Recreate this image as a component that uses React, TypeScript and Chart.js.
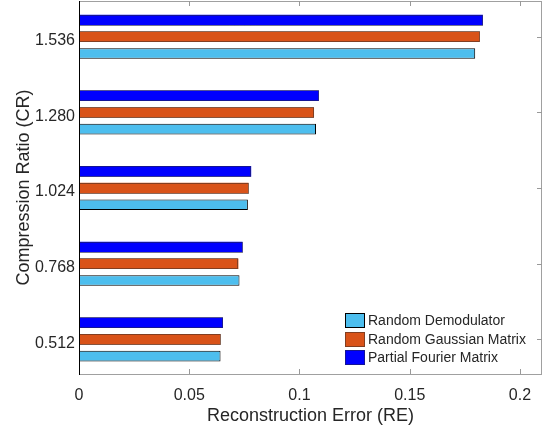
import { useEffect, useRef } from "react";
import { Chart, registerables } from "chart.js";

Chart.register(...registerables);

const categories = [0.512, 0.768, 1.024, 1.28, 1.536];
const categoryLabels = ["0.512", "0.768", "1.024", "1.280", "1.536"];
const xTicks = [0, 0.05, 0.1, 0.15, 0.2];
const xTickLabels = ["0", "0.05", "0.1", "0.15", "0.2"];
const randomDemodulator = [0.0642, 0.0728, 0.0766, 0.1075, 0.1797];
const randomGaussian = [0.0642, 0.0723, 0.0769, 0.1066, 0.1818];
const partialFourier = [0.0653, 0.0742, 0.0781, 0.1088, 0.1832];
const seriesNames = ["Random Demodulator", "Random Gaussian Matrix", "Partial Fourier Matrix"];
const seriesColors = ["#4DBEEE", "#D95319", "#0000FF"];

const FONT = "'Liberation Sans', Arial, Helvetica, sans-serif";
const TEXT = "#262626";

const decorPlugin = {
  id: "decor",
  afterDatasetsDraw(chart: any) {
    const ctx = chart.ctx;
    ctx.save();
    [0, 1].forEach((di) => {
      chart.getDatasetMeta(di).data.forEach((el: any) => {
        const p = el.getProps(["x", "y", "base", "height"], true);
        const l = Math.min(p.x, p.base);
        const r = Math.max(p.x, p.base);
        const t = p.y - p.height / 2;
        const b = p.y + p.height / 2;
        ctx.setLineDash([1, 1]);
        ctx.strokeStyle = "#2a2a2a";
        ctx.lineWidth = 1;
        ctx.strokeRect(Math.round(l) + 0.5, Math.round(t) + 0.5, Math.round(r - l) - 1, Math.round(b - t) - 1);
      });
    });
    ctx.restore();
  },
  afterDraw(chart: any) {
    const ctx = chart.ctx;
    const { left, right, top, bottom } = chart.chartArea;
    const xs = chart.scales.x;
    const ys = chart.scales.y;
    ctx.save();
    ctx.setLineDash([]);
    ctx.lineWidth = 1;
    ctx.strokeStyle = "#a0a0a0";
    ctx.beginPath();
    ctx.moveTo(left, top + 0.5);
    ctx.lineTo(right, top + 0.5);
    ctx.moveTo(right - 0.5, top);
    ctx.lineTo(right - 0.5, bottom + 1);
    ctx.moveTo(left, bottom + 0.5);
    ctx.lineTo(right, bottom + 0.5);
    ctx.stroke();
    ctx.strokeStyle = "#999999";
    ctx.beginPath();
    xTicks.forEach((v) => {
      const px = Math.round(xs.getPixelForValue(v)) + 0.5;
      ctx.moveTo(px, bottom);
      ctx.lineTo(px, bottom - 5);
      ctx.moveTo(px, top);
      ctx.lineTo(px, top + 5);
    });
    categories.forEach((c) => {
      const py = Math.round(ys.getPixelForValue(c)) + 0.5;
      ctx.moveTo(right, py);
      ctx.lineTo(right - 5, py);
    });
    ctx.stroke();
    ctx.strokeStyle = "#000000";
    ctx.beginPath();
    ctx.moveTo(left + 0.5, top);
    ctx.lineTo(left + 0.5, bottom + 1);
    ctx.stroke();

    const sx = 345;
    const sw = 20;
    const sh = 15;
    const rowTop = [313, 331.5, 350];
    ctx.font = `14px ${FONT}`;
    ctx.textBaseline = "middle";
    ctx.textAlign = "left";
    [0, 1, 2].forEach((si, i) => {
      const y0 = Math.round(rowTop[i]);
      ctx.fillStyle = seriesColors[si];
      ctx.fillRect(sx, y0, sw, sh);
      if (si === 0) {
        ctx.setLineDash([]);
        ctx.strokeStyle = "#000000";
      } else {
        ctx.setLineDash([1, 1]);
        ctx.strokeStyle = "#2a2a2a";
      }
      ctx.strokeRect(sx + 0.5, y0 + 0.5, sw - 1, sh - 1);
      ctx.setLineDash([]);
      ctx.fillStyle = TEXT;
      ctx.fillText(seriesNames[si], sx + sw + 3, y0 + sh / 2 + 1);
    });
    ctx.restore();
  },
};

export default function App() {
  const ref = useRef<HTMLCanvasElement | null>(null);

  useEffect(() => {
    if (!ref.current) return;
    const mk = (vals: number[]) => categories.map((c, i) => ({ x: vals[i], y: c }));
    const chart = new Chart(ref.current, {
      type: "bar",
      data: {
        datasets: [
          { label: seriesNames[2], data: mk(partialFourier), backgroundColor: seriesColors[2], borderWidth: 0 },
          { label: seriesNames[1], data: mk(randomGaussian), backgroundColor: seriesColors[1], borderWidth: 0 },
          {
            label: seriesNames[0],
            data: mk(randomDemodulator),
            backgroundColor: seriesColors[0],
            borderColor: "#000000",
            borderWidth: 1,
          },
        ],
      } as any,
      options: {
        indexAxis: "y",
        animation: false,
        responsive: false,
        maintainAspectRatio: false,
        devicePixelRatio: 1,
        datasets: { bar: { categoryPercentage: 0.662, barPercentage: 0.635 } },
        layout: { padding: { top: 1, right: 6, left: 0, bottom: 0 } },
        plugins: { legend: { display: false }, tooltip: { enabled: false } },
        scales: {
          x: {
            type: "linear",
            position: "bottom",
            min: 0,
            max: 0.21,
            offset: false,
            grid: { display: false, drawTicks: false },
            border: { display: false },
            afterBuildTicks: (s: any) => {
              s.ticks = xTicks.map((v) => ({ value: v }));
            },
            afterFit: (s: any) => {
              s.height = 58;
              s.paddingLeft = 0;
              s.paddingRight = 0;
            },
            ticks: {
              padding: 12,
              color: TEXT,
              font: { family: FONT, size: 16 },
              maxRotation: 0,
              callback: (_v: any, i: number) => xTickLabels[i],
            },
            title: {
              display: true,
              text: "Reconstruction Error (RE)",
              color: TEXT,
              font: { family: FONT, size: 18 },
              padding: { top: 0, bottom: 5 },
            },
          },
          y: {
            type: "linear",
            position: "left",
            min: 0.395,
            max: 1.657,
            offset: false,
            grid: { display: false, drawTicks: false },
            border: { display: false },
            afterBuildTicks: (s: any) => {
              s.ticks = categories.map((v) => ({ value: v }));
            },
            afterFit: (s: any) => {
              s.width = 79;
              s.paddingTop = 0;
              s.paddingBottom = 0;
            },
            ticks: {
              padding: 4,
              labelOffset: 4,
              color: TEXT,
              font: { family: FONT, size: 16 },
              callback: (_v: any, i: number) => categoryLabels[i],
            },
            title: {
              display: true,
              text: "Compression Ratio (CR)",
              color: TEXT,
              font: { family: FONT, size: 18 },
              padding: { top: 13, bottom: 0 },
            },
          },
        },
      } as any,
      plugins: [decorPlugin],
    });
    return () => chart.destroy();
  }, []);

  return (
    <div style={{ position: "absolute", left: 0, top: 0, width: 548, height: 432, background: "#fff" }}>
      <canvas ref={ref} width={548} height={432} style={{ display: "block", width: 548, height: 432 }} />
    </div>
  );
}
